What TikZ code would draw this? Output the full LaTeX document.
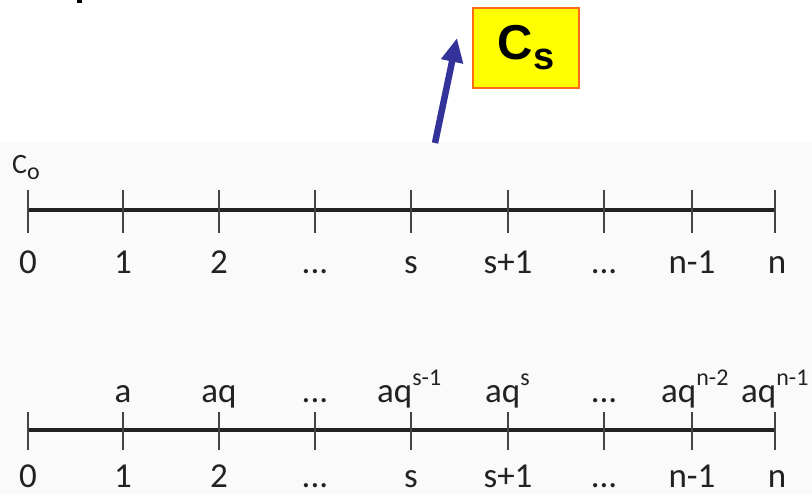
\documentclass[tikz,border=0pt]{standalone}
\usepackage{fontspec}
\setmainfont{Carlito}
\newfontfamily\arialfont{Liberation Sans}
\usetikzlibrary{arrows.meta}
\definecolor{boxyellow}{HTML}{FFFF00}
\definecolor{boxorange}{HTML}{FF6A13}
\definecolor{arrowblue}{HTML}{333399}
\definecolor{bggray}{HTML}{FAFAFA}
\definecolor{ink}{HTML}{222222}
\newcommand\supx[1]{\raisebox{17pt}{\fontsize{24}{24}\selectfont #1}}
\begin{document}
\begin{tikzpicture}[x=1pt,y=-1pt,
  lbl/.style={inner sep=0pt, anchor=base, font=\fontsize{35}{35}\selectfont, text=ink},
  lblw/.style={lbl, anchor=base west},
  axisline/.style={line width=4.5pt, draw=ink},
  tickmark/.style={line width=2pt, draw=ink!85},
  csbox/.style={draw=boxorange, line width=1.5pt, fill=boxyellow, minimum width=106pt, minimum height=80pt, inner sep=0pt},
  bluearrow/.style={draw=arrowblue, line width=6.5pt, -{Triangle[length=24pt,width=21pt]}}]
\useasboundingbox (0,0) rectangle (812,495);
% background of the pasted timeline image
\fill[bggray] (0,143) rectangle (812,495);
% fragment at the top edge
\fill[black] (77,0) rectangle (82,3.5);
% C_s box and arrow
\node[csbox] (cs) at (526,48) {\arialfont\bfseries\fontsize{49}{49}\selectfont C\raisebox{-10pt}{\fontsize{38}{38}\selectfont s}};
\coordinate (arrtail) at (435,143);
\coordinate (arrtip) at (457,38);
\draw[bluearrow] (arrtail) -- (arrtip);
% top timeline
\draw[axisline] (28,210) -- (775,210);
\foreach \x in {28,123,219,315,411,508,604,692,775}
  \draw[tickmark] (\x,190) -- (\x,233);
\node[lblw, font=\fontsize{28}{28}\selectfont] (c0) at (12,173) {C\raisebox{-6pt}{\fontsize{24}{24}\selectfont o}};
\node[lbl] (t0) at (28,273) {0};
\node[lbl] (t1) at (123,273) {1};
\node[lbl] (t2) at (219,273) {2};
\node[lbl] (t3) at (315,273) {...};
\node[lbl] (t4) at (411,273) {s};
\node[lbl] (t5) at (508,273) {s+1};
\node[lbl] (t6) at (604,273) {...};
\node[lbl] (t7) at (692,273) {n-1};
\node[lbl] (t8) at (777,273) {n};
% bottom timeline
\draw[axisline] (28,430) -- (775,430);
\foreach \x in {28,123,219,315,411,508,604,692,775}
  \draw[tickmark] (\x,412) -- (\x,450);
\node[lbl] (b0) at (28,487) {0};
\node[lbl] (b1) at (123,487) {1};
\node[lbl] (b2) at (219,487) {2};
\node[lbl] (b3) at (315,487) {...};
\node[lbl] (b4) at (411,487) {s};
\node[lbl] (b5) at (508,487) {s+1};
\node[lbl] (b6) at (604,487) {...};
\node[lbl] (b7) at (692,487) {n-1};
\node[lbl] (b8) at (777,487) {n};
% values above bottom timeline
\node[lbl] (v1) at (123,402) {a};
\node[lbl] (v2) at (219,402) {aq};
\node[lbl] (v3) at (315,402) {...};
\node[lblw] (v4) at (377,402) {aq\supx{s-1}};
\node[lblw] (v5) at (485,402) {aq\supx{s}};
\node[lbl] (v6) at (604,402) {...};
\node[lblw] (v7) at (661,402) {aq\supx{n-2}};
\node[lblw] (v8) at (741,402) {aq\supx{n-1}};
\end{tikzpicture}
\end{document}
